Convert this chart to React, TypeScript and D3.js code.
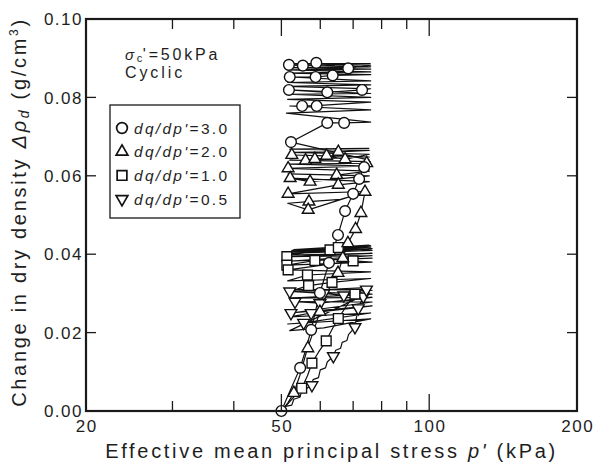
import React from "react";
import * as d3 from "d3";

// ---------- data (p' in kPa, change in dry density in g/cm3) ----------
const xTickLabels = [20, 50, 100, 200];
const xMajorTicks = [50, 100];
const xMinorTicks = [30, 40, 60, 70, 80, 90];
const yTicks = [0, 0.02, 0.04, 0.06, 0.08, 0.1];

const legendLabels = ["3.0", "2.0", "1.0", "0.5"];

const circleLine: [number, number][] = [
  [50, 0], [52, 0.005], [54.6, 0.011], [56, 0.0155], [57.5, 0.0207], [58.8, 0.026], [59.9, 0.0301],
  [61.2, 0.034], [62.5, 0.0378], [63.8, 0.041], [65.2, 0.0449], [66.3, 0.048], [67.4, 0.051],
  [70, 0.0554], [72, 0.0592], [73.7, 0.0622], [75.5, 0.064],
  [52.3, 0.0686], [62, 0.0735], [67.1, 0.0735], [76, 0.0737],
  [51.2, 0.076], [76, 0.0768],
  [52, 0.0778], [55.1, 0.0778], [59, 0.0779], [76, 0.0788],
  [51.5, 0.0795], [76, 0.08],
  [51.5, 0.0808], [76, 0.081],
  [51.8, 0.0819], [62, 0.0813], [73, 0.0819], [76, 0.0822],
  [51.5, 0.0828], [76, 0.0832],
  [51.5, 0.0838], [76, 0.0842],
  [52, 0.0852], [58.7, 0.0852], [63.6, 0.0856], [76, 0.0858],
  [51.5, 0.0862], [76, 0.0865],
  [51.5, 0.087], [76, 0.0872],
  [51.5, 0.0876], [76, 0.0878],
  [51.8, 0.0883], [55.3, 0.0881], [58.9, 0.0888], [68.4, 0.0874], [76, 0.0882],
  [51.5, 0.0886], [76, 0.0886],
];
const circleMarks: [number, number][] = [
  [50, 0], [54.6, 0.011], [57.5, 0.0207], [59.9, 0.0301], [62.5, 0.0378], [65.2, 0.0449],
  [67.4, 0.051], [70, 0.0554], [72, 0.0592], [73.7, 0.0622], [52.3, 0.0686], [62, 0.0735],
  [67.1, 0.0735], [55.1, 0.0778], [59, 0.0778], [51.8, 0.0819], [62, 0.0813], [73, 0.0819],
  [52, 0.0852], [58.7, 0.0852], [63.6, 0.0856], [51.8, 0.0883], [55.3, 0.0881], [58.9, 0.0888],
  [68.4, 0.0874],
];

const triangleLine: [number, number][] = [
  [50, 0], [51.5, 0.002], [53, 0.0046], [54.5, 0.009], [56.5, 0.016], [58, 0.02], [59.9, 0.0253],
  [61.5, 0.029], [63.2, 0.0325], [65.2, 0.0352], [66.7, 0.039], [68.3, 0.0428], [70.8, 0.0464],
  [72.6, 0.0505], [74, 0.0559],
  [56.7, 0.0513], [51.5, 0.053], [56.9, 0.0534], [66, 0.054], [75, 0.056],
  [51.6, 0.0554], [65.3, 0.0577], [75.5, 0.0585],
  [52.1, 0.0594], [57.2, 0.0585], [75.5, 0.06],
  [51.6, 0.0605], [64.8, 0.0602], [75.5, 0.0612],
  [51.6, 0.0619], [75.5, 0.0625],
  [52, 0.063], [74.6, 0.0632], [75.8, 0.0636],
  [52, 0.064], [56, 0.0639], [58.5, 0.0643], [75.5, 0.0648],
  [52.5, 0.0653], [61.8, 0.0651], [67.4, 0.0642], [75.5, 0.0655],
  [52, 0.066], [65.3, 0.0661], [75.5, 0.0665],
  [52, 0.0668], [75.5, 0.067],
];
const triangleMarks: [number, number][] = [
  [53, 0.0046], [56.6, 0.016], [59.9, 0.0253], [65.2, 0.0352], [66.7, 0.039], [68.3, 0.0428],
  [70.8, 0.0464], [72.6, 0.0505], [74, 0.0559],
  [52.5, 0.0653], [56, 0.0639], [58.5, 0.0643], [61.8, 0.0651], [65.3, 0.0661], [67.4, 0.0642],
  [51.6, 0.0619], [52.1, 0.0594], [57.2, 0.0585], [64.8, 0.0602], [65.3, 0.0577], [51.6, 0.0554],
  [56.9, 0.0534], [56.7, 0.0513], [74.6, 0.0632],
];

const squareLine: [number, number][] = [
  [50, 0], [52.5, 0.003], [55, 0.0058], [56.5, 0.009], [57.7, 0.0122], [59.5, 0.015], [61.7, 0.0179],
  [63.5, 0.021], [65.3, 0.0236], [68, 0.027], [70.6, 0.0298], [74.5, 0.0315],
  [52, 0.0305], [56.8, 0.032], [63.4, 0.0328], [76, 0.0338],
  [51.5, 0.0332], [56.5, 0.0347], [76, 0.0355],
  [51.6, 0.036], [70, 0.0383], [76.5, 0.038],
  [51.3, 0.0372], [58.5, 0.0384], [76.5, 0.039],
  [51.3, 0.0382], [76.5, 0.0396],
  [51.3, 0.0394], [76.5, 0.0402],
  [51.5, 0.0398], [62.8, 0.0411], [65.3, 0.0417], [76.5, 0.041],
  [52, 0.0402], [76.5, 0.0414],
  [52, 0.0406], [76, 0.0418],
  [52.5, 0.041], [76, 0.0421],
  [53, 0.0412], [75.5, 0.0423],
];
const squareMarks: [number, number][] = [
  [55, 0.0058], [57.7, 0.0122], [61.7, 0.0179], [65.3, 0.0236], [70.6, 0.0298],
  [51.3, 0.0394], [51.3, 0.0372], [51.6, 0.036], [58.5, 0.0384], [62.8, 0.0411], [65.3, 0.0417],
  [70, 0.0383], [56.5, 0.0347], [56.8, 0.032], [63.4, 0.0328],
];

const invTriangleLine: [number, number][] = [
  [50, 0], [51, 0.0012], [52.5, 0.0015], [53, 0.003], [54.5, 0.0035], [55, 0.005], [57.7, 0.0066],
  [58, 0.008], [59.5, 0.0085], [60, 0.0105], [61.5, 0.011], [62, 0.0125], [63.8, 0.014],
  [64.5, 0.0155], [66, 0.016], [66.5, 0.0175], [68, 0.018], [68.5, 0.0195], [70.6, 0.0214],
  [71, 0.0235], [71.7, 0.0262], [73.4, 0.0292], [75, 0.03],
  [52, 0.0205], [61, 0.0212], [76, 0.0235],
  [51.5, 0.0222], [55.5, 0.0225], [76, 0.025],
  [52, 0.024], [57.5, 0.025], [76.5, 0.0268],
  [52.3, 0.025], [76.5, 0.0278],
  [53.3, 0.0279], [59.9, 0.0275], [76.5, 0.029],
  [52, 0.0288], [76.5, 0.0298],
  [52, 0.0305], [61, 0.03], [67, 0.0295], [76.5, 0.0308],
  [52.5, 0.031], [74.5, 0.031], [76, 0.0318],
];
const invTriangleMarks: [number, number][] = [
  [57.7, 0.0066], [63.8, 0.014], [70.6, 0.0214], [71.7, 0.0262], [73.4, 0.0292],
  [53.3, 0.0279], [52.3, 0.025], [59.9, 0.0275], [57.5, 0.025], [55.5, 0.0225], [61, 0.03],
  [67, 0.0295], [74.5, 0.031], [52, 0.0305],
];

// ---------- layout ----------
const W = 594, H = 467;
const L = 86, R = 577, T = 19, B = 411;
const TXT = "#1e1e1e";
const FONT = "Arial, 'Liberation Sans', sans-serif";

const x = d3.scaleLog().domain([20, 200]).range([L, R]);
const y = d3.scaleLinear().domain([0, 0.1]).range([B, T]);

const line = d3.line<[number, number]>().x((d) => x(d[0])).y((d) => y(d[1]));

const symCircle = d3.symbol().type(d3.symbolCircle).size(90)();
const symTri = d3.symbol().type(d3.symbolTriangle).size(60)();
const symSquare = d3.symbol().type(d3.symbolSquare).size(95)();

type Series = { line: [number, number][]; marks: [number, number][]; sym: string; rot: number };
const series: Series[] = [
  { line: invTriangleLine, marks: invTriangleMarks, sym: symTri, rot: 180 },
  { line: squareLine, marks: squareMarks, sym: symSquare, rot: 0 },
  { line: triangleLine, marks: triangleMarks, sym: symTri, rot: 0 },
  { line: circleLine, marks: circleMarks, sym: symCircle, rot: 0 },
];
const legendSyms = [
  { sym: symCircle, rot: 0 },
  { sym: symTri, rot: 0 },
  { sym: symSquare, rot: 0 },
  { sym: symTri, rot: 180 },
];

export default function App() {
  return (
    <svg width={W} height={H} style={{ position: "absolute", left: 0, top: 0, background: "#fff" }}
      fontFamily={FONT}>
      <rect x={0} y={0} width={W} height={H} fill="#fff" />
      {/* data lines */}
      {series.map((s, i) => (
        <path key={"l" + i} d={line(s.line) || ""} fill="none" stroke="#111" strokeWidth={1.2} strokeLinejoin="round" />
      ))}
      {/* markers */}
      {series.map((s, i) =>
        s.marks.map((m, j) => (
          <path key={"m" + i + "-" + j} d={s.sym}
            transform={`translate(${x(m[0])},${y(m[1])}) rotate(${s.rot})`}
            fill="#fff" stroke="#111" strokeWidth={1.4} />
        ))
      )}
      {/* frame */}
      <rect x={L} y={T} width={R - L} height={B - T} fill="none" stroke="#1a1a1a" strokeWidth={2.2} />
      {/* x ticks */}
      {xMinorTicks.map((t) => (
        <g key={"xm" + t}>
          <line x1={x(t)} x2={x(t)} y1={B} y2={B - 10} stroke="#1a1a1a" strokeWidth={1.3} />
          <line x1={x(t)} x2={x(t)} y1={T} y2={T + 10} stroke="#1a1a1a" strokeWidth={1.3} />
        </g>
      ))}
      {xMajorTicks.map((t) => (
        <g key={"xM" + t}>
          <line x1={x(t)} x2={x(t)} y1={B} y2={B - 17} stroke="#1a1a1a" strokeWidth={1.3} />
          <line x1={x(t)} x2={x(t)} y1={T} y2={T + 17} stroke="#1a1a1a" strokeWidth={1.3} />
        </g>
      ))}
      {xTickLabels.map((t) => (
        <text key={"xl" + t} x={x(t) + 0.8} y={432} textAnchor="middle" fontSize={17} letterSpacing={1.5} fill={TXT}>
          {t}
        </text>
      ))}
      {/* y ticks */}
      {yTicks.map((t) => (
        <g key={"y" + t}>
          <line x1={L} x2={L + 10} y1={y(t)} y2={y(t)} stroke="#1a1a1a" strokeWidth={1.3} />
          <line x1={R} x2={R - 10} y1={y(t)} y2={y(t)} stroke="#1a1a1a" strokeWidth={1.3} />
          <text x={83} y={y(t)} dy="0.36em" textAnchor="end" fontSize={17} letterSpacing={1.5} fill={TXT}>
            {t.toFixed(2)}
          </text>
        </g>
      ))}
      {/* axis titles */}
      <text x={(100 + 563) / 2} y={458} textAnchor="middle" fontSize={20} letterSpacing={2.7} fill={TXT}>
        Effective mean principal stress <tspan fontStyle="italic">p'</tspan> (kPa)
      </text>
      <text transform={`translate(26,${(12 + 412) / 2}) rotate(-90)`} textAnchor="middle" fontSize={20}
        letterSpacing={2.7} fill={TXT}>
        Change in dry density <tspan fontStyle="italic">Δρ</tspan>
        <tspan fontStyle="italic" fontSize={14} dy={3}>d</tspan>
        <tspan dy={-3}> (g/cm</tspan>
        <tspan fontSize={12} dy={-8}>3</tspan>
        <tspan dy={8}>)</tspan>
      </text>
      {/* annotation */}
      <text x={125} y={60} fontSize={16} letterSpacing={2.8} fill={TXT}>
        <tspan fontStyle="italic" fontSize={15}>σ</tspan>
        <tspan fontSize={11} dy={2} letterSpacing={0.5}>c</tspan>
        <tspan dy={-2}>'=50kPa</tspan>
      </text>
      <text x={125} y={78} fontSize={16} letterSpacing={2.9} fill={TXT}>
        Cyclic
      </text>
      {/* legend */}
      <rect x={110} y={105} width={130} height={113} fill="#fff" stroke="#1a1a1a" strokeWidth={1.3} />
      {legendLabels.map((lab, i) => {
        const ly = 128 + i * 23.7;
        return (
          <g key={"lg" + i}>
            <path d={legendSyms[i].sym} transform={`translate(122,${ly}) rotate(${legendSyms[i].rot})`}
              fill="#fff" stroke="#111" strokeWidth={1.7} />
            <text x={134} y={ly} dy="0.36em" fontSize={15.5} letterSpacing={2.3} fill={TXT}>
              <tspan fontStyle="italic">dq/dp'</tspan>={lab}
            </text>
          </g>
        );
      })}
    </svg>
  );
}
